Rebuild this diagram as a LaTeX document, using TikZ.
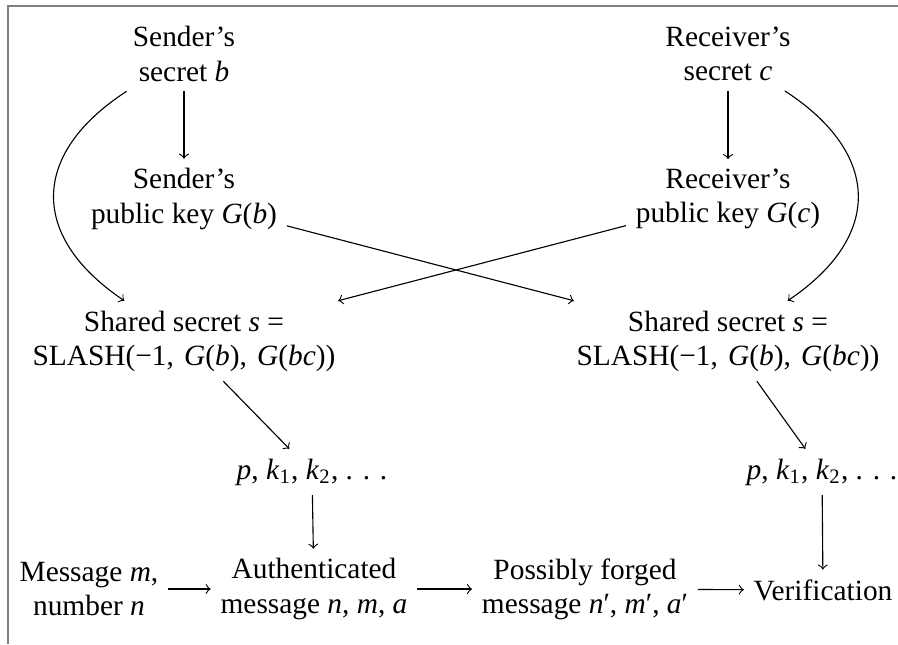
\documentclass[tikz,border=0pt]{standalone}
\usepackage{fontspec}
\setmainfont{Liberation Serif}
\usepackage{tikz}
\newcommand{\iv}[1]{\textit{#1}\/}
\newcommand{\dts}{.\,\,.\,\,.}

\begin{document}
\begin{tikzpicture}[x=.3575pt,y=-.3575pt,
	font=\fontsize{10.5}{12.2}\selectfont,
	box/.style={align=center},
	arr/.style={->}]
	\useasboundingbox (0,0) rectangle (898,644);
	\draw[line width=.7pt,gray] (8,644) -- (8,6) -- (898,6);
	
	\node[box] (sb) at (184,54) {Sender's\\secret \iv{b}};
	\node[box] (rc) at (728,54) {Receiver's\\secret \iv{c}};
	\node[box] (spk) at (184,199) {Sender's\\public key \iv{G}(\iv{b})};
	\node[box] (rpk) at (728,199) {Receiver's\\public key \iv{G}(\iv{c})};
	\node[box] (ssl) at (184,341) {Shared secret \iv{s} =\\SLASH(−1,\kern1pt\ \iv{G}(\iv{b}),\kern1pt\ \iv{G}(\iv{bc}))};
	\node[box] (ssr) at (728,341) {Shared secret \iv{s} =\\SLASH(−1,\kern1pt\ \iv{G}(\iv{b}),\kern1pt\ \iv{G}(\iv{bc}))};
	\node (pkl) at (312,472) {\iv{p}, \iv{k}\textsubscript{1}, \iv{k}\textsubscript{2}, \dts};
	\node (pkr) at (822,472) {\iv{p}, \iv{k}\textsubscript{1}, \iv{k}\textsubscript{2}, \dts};
	
	\node[box] (msg) at (89,589) {Message \iv{m},\\number \iv{n}};
	\node[box] (auth) at (314,589) {Authenticated\\message \iv{n}, \iv{m}, \iv{a}};
	\node[box] (forged) at (585,589) {Possibly forged\\message \iv{n}′, \iv{m}′, \iv{a}′};
	\node (ver) at (823,590) {Verification};
	
	\draw[arr] (sb) -- (spk);
	\draw[arr] (rc) -- (rpk);
	\draw[arr] (sb) to[out=213,in=146,looseness=1.4] (ssl);
	\draw[arr] (rc) to[out=-33,in=34,looseness=1.4] (ssr);
	\draw[arr] (spk) -- (ssr);
	\draw[arr] (rpk) -- (ssl);
	\draw[arr] (ssl) -- (pkl);
	\draw[arr] (ssr) -- (pkr);
	\draw[arr] (pkl) -- (auth);
	\draw[arr] (pkr) -- (ver);
	
	\draw[arr] (msg) -- (auth);
	\draw[arr] (auth) -- (forged);
	\draw[arr] (forged) -- (ver);
\end{tikzpicture}
\end{document}
